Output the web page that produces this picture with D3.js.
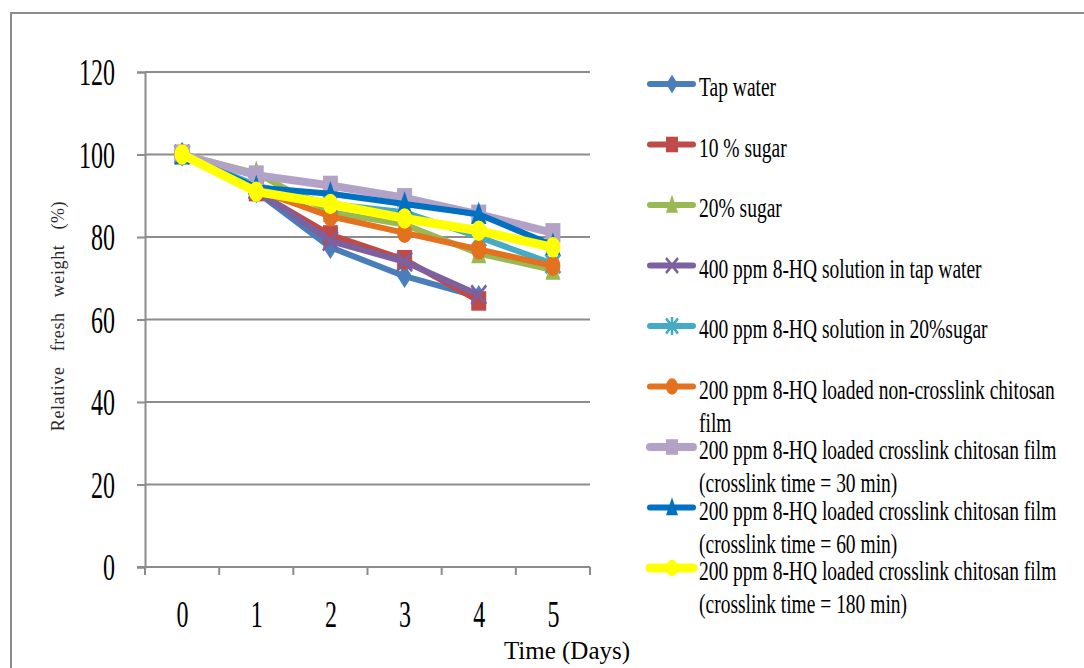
<!DOCTYPE html>
<html>
<head>
<meta charset="utf-8">
<script src="https://cdn.jsdelivr.net/npm/d3@7"></script>
<style>
  body { margin: 0; background: #fff; }
  svg { display: block; }
</style>
</head>
<body>
<svg id="chart"></svg>
<script>
// data
const days = [0, 1, 2, 3, 4, 5];
const yTicks = [0, 20, 40, 60, 80, 100, 120];

const seriesNames = [
  "Tap water",
  "10 % sugar",
  "20% sugar",
  "400 ppm 8-HQ solution in tap water",
  "400 ppm 8-HQ solution in 20%sugar",
  "200 ppm 8-HQ loaded non-crosslink chitosan film",
  "200 ppm 8-HQ loaded crosslink chitosan film (crosslink time = 30 min)",
  "200 ppm 8-HQ loaded crosslink chitosan film (crosslink time = 60 min)",
  "200 ppm 8-HQ loaded crosslink chitosan film (crosslink time = 180 min)"
];
const tapWater     = [100, 91, 77.5, 70.5, 65.5, null];
const sugar10      = [100, 91, 80.5, 74.5, 64.5, null];
const sugar20      = [100, 95.5, 86, 83, 76, 72];
const hqTap        = [100, 91.5, 79, 74, 66, null];
const hqSugar      = [100, 92.5, 88, 86, 80, 73.5];
const nonCross     = [100, 91.5, 85, 81, 77, 73];
const cross30      = [100, 95, 92.5, 89.5, 85.5, 81];
const cross60      = [100, 92, 90.5, 88, 85.5, 78];
const cross180     = [100, 91, 88, 84.5, 81.5, 77.5];

const seriesValues = [tapWater, sugar10, sugar20, hqTap, hqSugar, nonCross, cross30, cross60, cross180];
const seriesColors = ["#4a7ebb", "#be4b48", "#98b954", "#7d60a0", "#46aac5", "#e3711e", "#b3a2c7", "#0070c0", "#ffff00"];
const seriesMarkers = ["diamond", "square", "triangle", "x", "star", "circle", "square", "triangle", "circle"];
const seriesWidths = [6, 6, 6, 6, 6, 6, 8, 6, 9];

const W = 1084, H = 668;
const plot = { left: 145, right: 590, top: 72, bottom: 567 };
const serif = "'Liberation Serif', 'Times New Roman', serif";
const gridCol = "#8c8c8c";

const svg = d3.select("#chart").attr("width", W).attr("height", H);

// outer frame (only top and left edges visible)
svg.append("path")
  .attr("d", `M11,${H} V13 H${W}`)
  .attr("fill", "none")
  .attr("stroke", gridCol)
  .attr("stroke-width", 2);

const x = d3.scalePoint().domain(days).range([plot.left, plot.right]).padding(0.5);
const xBand = d3.scaleBand().domain(days).range([plot.left, plot.right]);
const y = d3.scaleLinear().domain([0, 120]).range([plot.bottom, plot.top]);

// gridlines
svg.append("g").selectAll("line")
  .data(yTicks.filter(d => d > 0))
  .join("line")
  .attr("x1", plot.left).attr("x2", plot.right)
  .attr("y1", d => y(d)).attr("y2", d => y(d))
  .attr("stroke", gridCol).attr("stroke-width", 2);

// y axis
const yAxis = svg.append("g")
  .attr("transform", `translate(${plot.left},0)`)
  .call(d3.axisLeft(y).tickValues(yTicks).tickSize(8).tickPadding(22));
yAxis.select(".domain").attr("stroke", gridCol).attr("stroke-width", 2);
yAxis.selectAll(".tick line").attr("stroke", gridCol).attr("stroke-width", 2);
yAxis.selectAll(".tick text")
  .attr("font-family", serif)
  .attr("font-size", 24)
  .attr("fill", "#000")
  .attr("dy", "0.33em")
  .attr("transform", "scale(1,1.6)");

// x axis line and category boundary ticks
svg.append("line")
  .attr("x1", plot.left - 8).attr("x2", plot.right)
  .attr("y1", plot.bottom).attr("y2", plot.bottom)
  .attr("stroke", gridCol).attr("stroke-width", 2);
svg.append("g").selectAll("line")
  .data(days.map(d => xBand(d)).concat([plot.right]))
  .join("line")
  .attr("x1", d => d).attr("x2", d => d)
  .attr("y1", plot.bottom).attr("y2", plot.bottom + 8)
  .attr("stroke", gridCol).attr("stroke-width", 2);

const xAxis = svg.append("g")
  .attr("transform", `translate(0,${plot.bottom})`)
  .call(d3.axisBottom(x).tickSize(0));
xAxis.select(".domain").remove();
xAxis.selectAll(".tick text")
  .attr("font-family", serif)
  .attr("font-size", 24)
  .attr("fill", "#000")
  .attr("y", 0).attr("dy", 0)
  .attr("transform", "translate(0,60) scale(1,1.6)");

// axis titles
svg.append("text")
  .attr("x", 567).attr("y", 659)
  .attr("text-anchor", "middle")
  .attr("font-family", serif)
  .attr("font-size", 25)
  .attr("fill", "#000")
  .text("Time (Days)");

svg.append("text")
  .attr("transform", "translate(64,316) rotate(-90)")
  .attr("text-anchor", "middle")
  .attr("font-family", serif)
  .attr("font-size", 18)
  .attr("letter-spacing", 0.6)
  .attr("word-spacing", 10)
  .attr("fill", "#2a2a2a")
  .text("Relative fresh weight (%)");

// marker shapes, drawn a bit taller than wide like the source
function markerPath(type, s) {
  const h = s / 2;
  switch (type) {
    case "diamond": return `M0,${-h * 1.2}L${h},0L0,${h * 1.2}L${-h},0Z`;
    case "square": return `M${-h},${-h}H${h}V${h}H${-h}Z`;
    case "triangle": return `M0,${-h * 1.3}L${h},${h}L${-h},${h}Z`;
    case "x": return `M${-h},${-h}L${h},${h}M${h},${-h}L${-h},${h}`;
    case "star": return `M${-h},${-h}L${h},${h}M${h},${-h}L${-h},${h}M0,${-h * 1.2}V${h * 1.2}`;
    default: return null;
  }
}

function drawMarker(g, type, color, cx, cy, s) {
  if (type === "circle") {
    g.append("ellipse")
      .attr("cx", cx).attr("cy", cy)
      .attr("rx", s / 2).attr("ry", s * 0.68)
      .attr("fill", color);
  } else if (type === "x" || type === "star") {
    g.append("path")
      .attr("transform", `translate(${cx},${cy}) scale(1,1.25)`)
      .attr("d", markerPath(type, s))
      .attr("fill", "none").attr("stroke", color).attr("stroke-width", 2.5);
  } else {
    g.append("path")
      .attr("transform", `translate(${cx},${cy}) scale(1,1.3)`)
      .attr("d", markerPath(type, s))
      .attr("fill", color);
  }
}

// series
const line = d3.line()
  .defined(d => d.v !== null)
  .x(d => x(d.day))
  .y(d => y(d.v));

seriesValues.forEach((vals, i) => {
  const pts = vals.map((v, j) => ({ day: days[j], v: v }));
  const g = svg.append("g");
  g.append("path")
    .datum(pts)
    .attr("d", line)
    .attr("fill", "none")
    .attr("stroke", seriesColors[i])
    .attr("stroke-width", seriesWidths[i])
    .attr("stroke-linejoin", "round");
  pts.filter(d => d.v !== null).forEach(d => {
    drawMarker(g, seriesMarkers[i], seriesColors[i], x(d.day), y(d.v), 15);
  });
});

// legend
const legend = svg.append("g");
const legX = 650, legY = 84, legStep = 60.5;
seriesNames.forEach((name, i) => {
  const ly = legY + i * legStep;
  const item = legend.append("g");
  item.append("line")
    .attr("x1", legX).attr("x2", legX + 43)
    .attr("y1", ly).attr("y2", ly)
    .attr("stroke", seriesColors[i])
    .attr("stroke-width", seriesWidths[i])
    .attr("stroke-linecap", "round");
  drawMarker(item, seriesMarkers[i], seriesColors[i], legX + 22, ly, 12);

  // word wrap
  const words = name.split(" ");
  const lines = [];
  let cur = "";
  const probe = svg.append("text").attr("font-family", serif).attr("font-size", 19.5);
  words.forEach(w => {
    const test = cur ? cur + " " + w : w;
    probe.text(test);
    if (probe.node().getComputedTextLength() > 362 && cur) {
      lines.push(cur);
      cur = w;
    } else {
      cur = test;
    }
  });
  lines.push(cur);
  probe.remove();

  lines.forEach((t, k) => {
    item.append("text")
      .attr("transform", `translate(${legX + 49},${ly + 12 + k * 33}) scale(1,1.42)`)
      .attr("font-family", serif)
      .attr("font-size", 19.5)
      .attr("fill", "#000")
      .text(t);
  });
});
</script>
</body>
</html>
